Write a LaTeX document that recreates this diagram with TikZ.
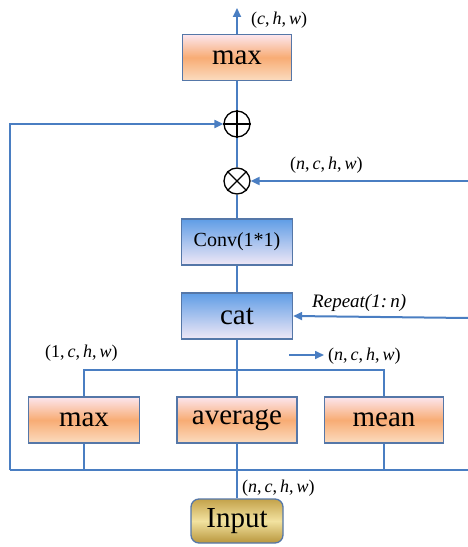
\documentclass[tikz,border=0pt]{standalone}
\usepackage{fontspec}
\setmainfont{Liberation Serif}
\usetikzlibrary{arrows.meta}
\definecolor{lineblue}{HTML}{4A7EC2}
\definecolor{boxedge}{HTML}{5577A8}
\definecolor{orTop}{HTML}{FCE6EE}
\definecolor{orMid}{HTML}{F8AC74}
\definecolor{orBot}{HTML}{FBDCC0}
\definecolor{blTop}{HTML}{5F9DE6}
\definecolor{blBot}{HTML}{F0E8F6}
\definecolor{gdTop}{HTML}{C4A24A}
\definecolor{gdMid}{HTML}{F2E2A0}
\definecolor{gdBot}{HTML}{B8963C}
\tikzset{
  conn/.style={draw=lineblue, line width=2bp},
  arr/.style={conn, -{Triangle[length=9bp,width=8bp]}},
  orbox/.style={draw=boxedge, line width=1.3bp, minimum height=46bp, inner sep=0pt,
    top color=orTop, bottom color=orBot, middle color=orMid,
    font=\fontsize{29bp}{31bp}\selectfont},
  blbox/.style={draw=boxedge, line width=1.3bp, minimum width=111bp, minimum height=46bp, inner sep=0pt,
    top color=blTop, bottom color=blBot},
  opnode/.style={circle, draw=black, line width=1.3bp, minimum size=26bp, inner sep=0pt, fill=white},
  dimlabel/.style={font=\fontsize{18bp}{20bp}\selectfont, inner sep=0pt},
}
\begin{document}
\begin{tikzpicture}[x=1bp,y=-1bp]
\useasboundingbox (0,0) rectangle (468,547);
% nodes
\node[orbox, minimum width=109bp] (topmax) at (237,57.5) {max};
\node[opnode] (plus) at (237,124) {};
\draw[line width=1.3bp] (plus.north) -- (plus.south) (plus.west) -- (plus.east);
\node[opnode] (times) at (237,181) {};
\draw[line width=1.3bp] (times.north west) -- (times.south east) (times.north east) -- (times.south west);
\node[blbox, font=\fontsize{20bp}{22bp}\selectfont] (conv) at (237,242) {Conv(1*1)};
\node[blbox, font=\fontsize{29bp}{31bp}\selectfont] (cat) at (237,316) {cat};
\node[orbox, minimum width=111bp] (bmax) at (84,420) {max};
\node[orbox, minimum width=120bp] (bavg) at (237,420) {average};
\node[orbox, minimum width=119bp] (bmean) at (384,420) {mean};
\node[draw=boxedge, line width=1.3bp, rounded corners=8bp, minimum width=92bp, minimum height=44bp,
  inner sep=0pt, top color=gdTop, bottom color=gdBot, middle color=gdMid,
  font=\fontsize{29bp}{31bp}\selectfont] (input) at (237,521) {Input};
% coordinates
\coordinate (outtip) at (237,8);
\coordinate (rtimes) at (468,181);
\coordinate (rcat) at (468,318);
\coordinate (brL) at (84,370);
\coordinate (brM) at (237,370);
\coordinate (brR) at (384,370);
\coordinate (botL) at (10,470);
\coordinate (botM) at (237,470);
\coordinate (botR) at (468,470);
\coordinate (smallA) at (289,355);
\coordinate (smallB) at (324,355);
% connectors
\draw[arr] (topmax.north) -- (outtip);
\draw[conn] (plus.north) -- (topmax.south);
\draw[arr] (botL) |- (plus.west);
\draw[conn] (times.north) -- (plus.south);
\draw[arr] (rtimes) -- (times.east);
\draw[conn] (conv.north) -- (times.south);
\draw[conn] (cat.north) -- (conv.south);
\draw[arr] (rcat) -- (cat.east);
\draw[conn] (cat.south) -- (brM);
\draw[conn] (bmax.north) -- (brL) -- (brR) -- (bmean.north);
\draw[conn] (brM) -- (bavg.north);
\draw[conn] (botL) -- (botR);
\draw[conn] (bmax.south) -- (bmax.south |- botL);
\draw[conn] (bavg.south) -- (botM);
\draw[conn] (bmean.south) -- (bmean.south |- botL);
\draw[conn] (botM) -- (input.north);
\draw[arr, line width=1.6bp] (smallA) -- (smallB);
% labels
\node[dimlabel, anchor=west] (lab1) at (251,20) {(\textit{c},\,\textit{h},\,\textit{w})};
\node[dimlabel, anchor=west] (lab2) at (290,165) {(\textit{n},\,\textit{c},\,\textit{h},\,\textit{w})};
\node[dimlabel, anchor=west, font=\fontsize{19bp}{21bp}\selectfont\itshape] (lab3) at (312,303) {Repeat(1:\,n)};
\node[dimlabel, anchor=west] (lab4) at (45,353) {(1,\,\textit{c},\,\textit{h},\,\textit{w})};
\node[dimlabel, anchor=west] (lab5) at (328,356) {(\textit{n},\,\textit{c},\,\textit{h},\,\textit{w})};
\node[dimlabel, anchor=west] (lab6) at (242,488) {(\textit{n},\,\textit{c},\,\textit{h},\,\textit{w})};
\end{tikzpicture}
\end{document}
